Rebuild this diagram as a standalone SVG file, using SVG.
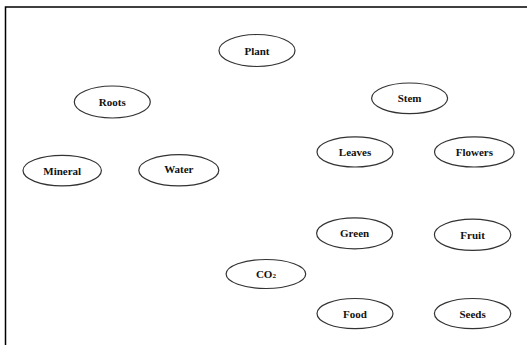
<svg xmlns="http://www.w3.org/2000/svg" width="527" height="345" viewBox="0 0 527 345">
<style>
.n ellipse{fill:#fff;stroke:#333;stroke-width:1.2}
.n text{font-family:"Liberation Serif","Times New Roman",serif;font-weight:bold;font-size:11px;fill:#111;text-anchor:middle;dominant-baseline:central}
.frame{stroke:#000;stroke-width:1.5;fill:none}
</style>
<rect width="527" height="345" fill="#fff"/>
<path class="frame" d="M5.5,345 V7 H527"/>
<g id="connectors"></g>
<g id="plant" class="n"><ellipse cx="257" cy="50.5" rx="38" ry="16"/><text x="257" y="50.5">Plant</text></g>
<g id="roots" class="n"><ellipse cx="112.3" cy="102" rx="38" ry="16"/><text x="112.3" y="102">Roots</text></g>
<g id="stem" class="n"><ellipse cx="409.6" cy="98.3" rx="38" ry="15.3"/><text x="409.6" y="98.3">Stem</text></g>
<g id="leaves" class="n"><ellipse cx="355" cy="151.9" rx="38" ry="15.1"/><text x="355" y="151.9">Leaves</text></g>
<g id="flowers" class="n"><ellipse cx="474.3" cy="151.9" rx="39.8" ry="15.1"/><text x="474.3" y="151.9">Flowers</text></g>
<g id="mineral" class="n"><ellipse cx="62.2" cy="170.6" rx="39.2" ry="15.3"/><text x="62.2" y="171">Mineral</text></g>
<g id="water" class="n"><ellipse cx="178.8" cy="170.3" rx="40" ry="15.6"/><text x="178.8" y="169">Water</text></g>
<g id="green" class="n"><ellipse cx="354.6" cy="233.3" rx="38" ry="15.5"/><text x="354.6" y="233">Green</text></g>
<g id="fruit" class="n"><ellipse cx="472.6" cy="234.8" rx="38.2" ry="15.6"/><text x="472.6" y="234.8">Fruit</text></g>
<g id="co2" class="n"><ellipse cx="265.9" cy="274" rx="39.8" ry="14.5"/><text x="265.9" y="274">CO<tspan font-size="7" dy="2">2</tspan></text></g>
<g id="food" class="n"><ellipse cx="355" cy="313.6" rx="38" ry="15.1"/><text x="355" y="313.6">Food</text></g>
<g id="seeds" class="n"><ellipse cx="472.6" cy="313.6" rx="38.2" ry="15.1"/><text x="472.6" y="313.6">Seeds</text></g>
</svg>
